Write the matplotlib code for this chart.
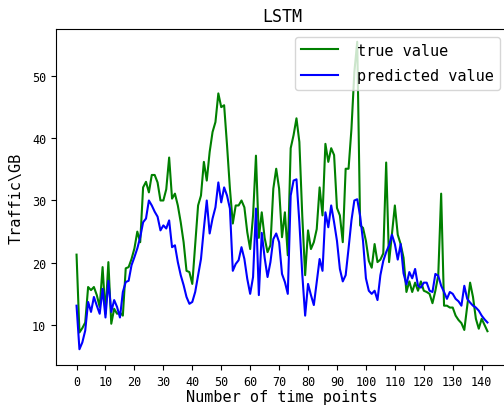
import matplotlib
matplotlib.use("Agg")
import matplotlib.pyplot as plt
import numpy as np

true_value = [
    21.3, 8.8, 9.5, 10.4, 16.1, 15.6, 16.1, 14.8, 12.9, 19.3,
    11.8, 20.1, 10.2, 12.6, 11.8, 12.0, 11.5, 19.1, 19.3, 20.6,
    22.3, 25.0, 23.3, 32.1, 33.0, 31.3, 34.1, 34.1, 32.9, 30.0,
    30.0, 31.8, 36.9, 30.3, 31.1, 29.2, 26.5, 23.3, 18.7, 18.5,
    16.6, 22.8, 29.2, 30.8, 36.2, 33.2, 37.8, 41.0, 42.6, 47.2,
    45.0, 45.3, 38.9, 31.9, 26.3, 29.2, 29.2, 30.0, 28.9, 24.9,
    22.2, 27.6, 37.2, 24.0, 28.1, 24.0, 21.7, 22.8, 31.9, 35.1,
    31.9, 24.1, 28.1, 21.2, 38.4, 40.5, 43.2, 39.4, 27.6, 18.0,
    25.2, 22.2, 23.3, 25.4, 32.1, 27.6, 39.1, 36.2, 38.4, 37.3,
    28.8, 27.6, 23.3, 35.1, 35.1, 41.5, 50.6, 55.5, 26.0, 25.6,
    23.5, 20.3, 19.2, 23.0, 20.1, 20.5, 21.5, 36.1, 20.1, 24.7,
    29.2, 24.5, 23.0, 20.8, 15.3, 17.0, 15.3, 16.8, 15.5, 17.0,
    15.5, 15.3, 15.0, 13.5, 15.5, 18.0, 31.1, 13.1, 13.1, 12.8,
    12.8, 11.5, 10.8, 10.3, 9.2, 13.0, 16.8, 14.5, 11.0, 9.4,
    11.0, 10.0, 9.0,
]

predicted_value = [
    13.1, 6.1, 7.2, 9.1, 13.7, 12.1, 14.5, 13.1, 11.8, 15.8,
    11.2, 17.1, 12.1, 14.0, 12.9, 11.2, 15.3, 16.9, 17.1, 19.6,
    20.9, 22.3, 24.1, 26.5, 27.1, 30.0, 29.2, 28.2, 27.4, 25.2,
    26.0, 25.5, 26.8, 22.5, 22.8, 20.1, 18.0, 16.4, 14.5, 13.4,
    13.7, 15.3, 18.0, 20.6, 25.5, 30.0, 24.7, 27.1, 28.9, 32.9,
    29.7, 32.1, 30.8, 28.7, 18.7, 19.8, 20.4, 22.5, 20.6, 17.4,
    15.0, 17.7, 28.7, 14.8, 24.8, 20.8, 17.7, 20.1, 23.8, 24.7,
    23.3, 18.2, 16.9, 15.0, 30.8, 33.2, 33.4, 26.5, 18.2, 11.5,
    16.6, 14.8, 13.2, 16.9, 20.6, 18.7, 28.1, 25.7, 29.2, 26.5,
    23.5, 19.0, 17.0, 18.0, 22.3, 26.8, 30.0, 30.2, 27.5, 23.5,
    17.5, 15.5, 15.0, 15.5, 14.0, 18.0, 20.3, 21.7, 22.8, 24.5,
    23.0, 20.5, 23.0, 18.3, 16.5, 18.5, 17.5, 19.0, 16.3, 16.0,
    16.8, 16.8, 15.5, 15.3, 18.2, 17.9, 16.3, 15.3, 14.2, 15.3,
    15.0, 14.2, 13.8, 13.1, 16.3, 14.2, 13.6, 13.1, 12.8, 12.3,
    11.5, 10.9, 10.4,
]

x_ticks = list(range(0, 141, 10))
y_ticks = [10, 20, 30, 40, 50]

font = ["DejaVu Sans Mono"]
plt.rcParams["font.family"] = font

fig = plt.figure(figsize=(5.04, 4.06), dpi=100)
ax = fig.add_axes([56 / 504, 40 / 406, 452 / 504, 336 / 406])

x = np.arange(len(true_value))
ax.plot(x, true_value, color="green", linewidth=1.5, label="true value")
ax.plot(x, predicted_value, color="blue", linewidth=1.5, label="predicted value")

ax.set_xlim(-7.1, 149.1)
ax.set_ylim(3.57, 57.55)
ax.set_xticks(x_ticks)
ax.set_yticks(y_ticks)
ax.tick_params(labelsize=8.5)

ax.set_title("LSTM", fontsize=12)
ax.set_xlabel("Number of time points", fontsize=11, labelpad=1)
ax.set_ylabel("Traffic\\GB", fontsize=11, labelpad=6)
ax.legend(loc="upper right", fontsize=11, handlelength=2.4, handletextpad=1.3,
          labelspacing=0.7)

fig.savefig("out.png", dpi=100)
